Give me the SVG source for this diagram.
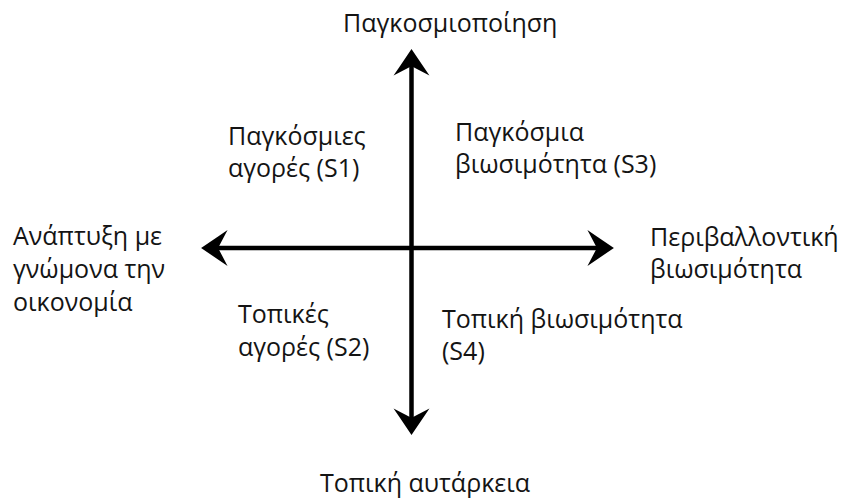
<svg xmlns="http://www.w3.org/2000/svg" width="850" height="499" viewBox="0 0 850 499">
  <style>
    .lbl { font-family: "Open Sans", "Noto Sans", "DejaVu Sans", sans-serif; font-size: 25px; fill: #141414; }
    .axis { stroke: #000; stroke-width: 4.5; fill: none; }
    .head { stroke: #000; stroke-width: 5.5; fill: #000; stroke-linejoin: miter; stroke-miterlimit: 10; stroke-linecap: butt; }
  </style>
  <rect width="850" height="499" fill="#fff"/>

  <!-- two crossing axes with arrowheads at every end -->
  <g id="connectors">
    <line class="axis" x1="411.5" y1="54" x2="411.5" y2="430"/>
    <line class="axis" x1="206" y1="248" x2="609" y2="248"/>
    <path class="head" d="M402,68 L411.5,54 L421,68 L411.5,63 Z"/>
    <path class="head" d="M402,416 L411.5,430 L421,416 L411.5,421 Z"/>
    <path class="head" d="M220,238.5 L206,248 L220,257.5 L215,248 Z"/>
    <path class="head" d="M595,238.5 L609,248 L595,257.5 L600,248 Z"/>
  </g>

  <g id="top"><text class="lbl" x="343" y="32">Παγκοσμιοποίηση</text></g>
  <g id="bottom"><text class="lbl" x="320" y="492">Τοπική αυτάρκεια</text></g>
  <g id="left">
    <text class="lbl" x="13" y="245">Ανάπτυξη με</text>
    <text class="lbl" x="13" y="278">γνώμονα την</text>
    <text class="lbl" x="13" y="311">οικονομία</text>
  </g>
  <g id="right">
    <text class="lbl" x="650" y="246">Περιβαλλοντική</text>
    <text class="lbl" x="650" y="278">βιωσιμότητα</text>
  </g>
  <g id="s1">
    <text class="lbl" x="228" y="145">Παγκόσμιες</text>
    <text class="lbl" x="228" y="177">αγορές (S1)</text>
  </g>
  <g id="s3">
    <text class="lbl" x="455" y="141">Παγκόσμια</text>
    <text class="lbl" x="455" y="173">βιωσιμότητα (S3)</text>
  </g>
  <g id="s2">
    <text class="lbl" x="238" y="323">Τοπικές</text>
    <text class="lbl" x="238" y="356">αγορές (S2)</text>
  </g>
  <g id="s4">
    <text class="lbl" x="442" y="328">Τοπική βιωσιμότητα</text>
    <text class="lbl" x="442" y="360">(S4)</text>
  </g>
</svg>
